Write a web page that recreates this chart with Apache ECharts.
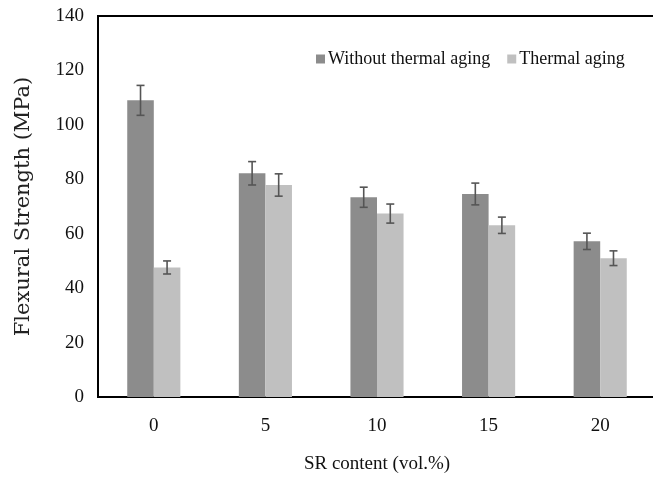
<!DOCTYPE html>
<html>
<head>
<meta charset="utf-8">
<script src="https://cdn.jsdelivr.net/npm/echarts@6/dist/echarts.min.js"></script>
<style>html,body{margin:0;padding:0;background:#fff;}#c{width:653px;height:477px;}</style>
</head>
<body>
<div id="c"></div>
<script>
var categories = ['0', '5', '10', '15', '20'];
var withoutAging = [109.0, 82.2, 73.4, 74.6, 57.2];
var withoutAgingErr = [5.5, 4.3, 3.7, 4.0, 3.0];
var thermalAging = [47.6, 77.9, 67.4, 63.1, 51.0];
var thermalAgingErr = [2.4, 4.1, 3.5, 3.0, 2.7];
var yTicks = [0, 20, 40, 60, 80, 100, 120, 140];

var FONT = 'Liberation Serif';
var BAR_FRAC = 0.238;

function errorSeries(name, vals, errs, side) {
  var data = vals.map(function (v, i) { return [i, v - errs[i], v + errs[i]]; });
  return {
    name: name + ' err',
    type: 'custom',
    z: 10,
    silent: true,
    data: data,
    encode: { x: 0, y: [1, 2] },
    renderItem: function (params, api) {
      var band = api.size([1, 0])[0];
      var off = side * band * BAR_FRAC / 2;
      var lo = api.coord([api.value(0), api.value(1)]);
      var hi = api.coord([api.value(0), api.value(2)]);
      var x = lo[0] + off;
      var cap = 4;
      var st = { stroke: '#555555', lineWidth: 1.6 };
      return {
        type: 'group',
        children: [
          { type: 'line', shape: { x1: x, y1: lo[1], x2: x, y2: hi[1] }, style: st },
          { type: 'line', shape: { x1: x - cap, y1: lo[1], x2: x + cap, y2: lo[1] }, style: st },
          { type: 'line', shape: { x1: x - cap, y1: hi[1], x2: x + cap, y2: hi[1] }, style: st }
        ]
      };
    }
  };
}

var chart = echarts.init(document.getElementById('c'), null, { renderer: 'canvas' });
chart.setOption({
  animation: false,
  backgroundColor: '#ffffff',
  textStyle: { fontFamily: FONT },
  grid: { left: 98, right: -3, top: 16, bottom: 80, containLabel: false, outerBoundsMode: 'none', show: true, borderColor: '#000', borderWidth: 2, backgroundColor: 'transparent' },
  legend: {
    data: ['Without thermal aging', 'Thermal aging'],
    left: 311, top: 45,
    itemWidth: 9, itemHeight: 9, itemGap: 17,
    icon: 'rect',
    textStyle: { fontFamily: FONT, fontSize: 18, color: '#111', padding: [0, 0, 0, -2] }
  },
  xAxis: {
    type: 'category',
    data: categories,
    name: 'SR content (vol.%)',
    nameLocation: 'middle',
    nameGap: 58,
    nameTextStyle: { fontFamily: FONT, fontSize: 19, color: '#111' },
    axisLine: { lineStyle: { color: '#000', width: 2 } },
    axisTick: { show: false },
    axisLabel: { fontFamily: FONT, fontSize: 19, color: '#111', margin: 20 }
  },
  yAxis: {
    type: 'value',
    min: 0, max: 140, interval: 20,
    name: 'Flexural Strength (MPa)',
    nameLocation: 'middle',
    nameGap: 64,
    nameRotate: 90,
    nameTextStyle: { fontFamily: 'DejaVu Serif', fontSize: 21, color: '#222' },
    axisLine: { show: true, lineStyle: { color: '#000', width: 2 } },
    axisTick: { show: false },
    splitLine: { show: false },
    axisLabel: {
      fontFamily: FONT, fontSize: 19, color: '#111', margin: 14,
      formatter: function (v) { return yTicks.indexOf(v) >= 0 ? String(v) : ''; }
    }
  },
  series: [
    { name: 'Without thermal aging', type: 'bar', data: withoutAging, barWidth: (BAR_FRAC * 100) + '%', barGap: '0%', itemStyle: { color: '#8c8c8c' } },
    { name: 'Thermal aging', type: 'bar', data: thermalAging, barWidth: (BAR_FRAC * 100) + '%', barGap: '0%', itemStyle: { color: '#c0c0c0' } },
    errorSeries('Without thermal aging', withoutAging, withoutAgingErr, -1),
    errorSeries('Thermal aging', thermalAging, thermalAgingErr, 1)
  ]
});
</script>
</body>
</html>
